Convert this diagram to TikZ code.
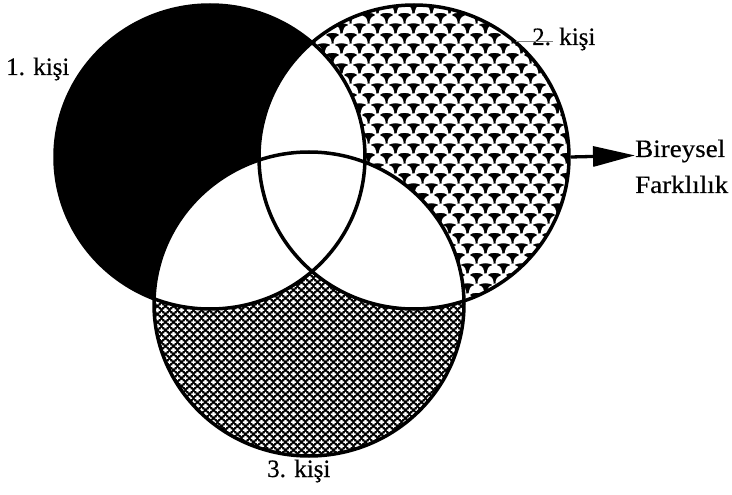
\documentclass[tikz,border=0pt]{standalone}
\usepackage{fontspec}
\setmainfont{Liberation Serif}[FakeBold=0.4]
\usetikzlibrary{arrows.meta,patterns,shapes.geometric}

% white "dome" shape of the scale pattern, bottom centre at (#1,#2)
\newcommand\mydome[2]{%
  \pgfpathmoveto{\pgfpointadd{\pgfpoint{#1}{#2}}{\pgfpoint{-8.2pt}{-2.5pt}}}%
  \pgfpathcurveto{\pgfpointadd{\pgfpoint{#1}{#2}}{\pgfpoint{-8.2pt}{3.5pt}}}%
                 {\pgfpointadd{\pgfpoint{#1}{#2}}{\pgfpoint{-6.5pt}{6.8pt}}}%
                 {\pgfpointadd{\pgfpoint{#1}{#2}}{\pgfpoint{-3pt}{7.5pt}}}%
  \pgfpathcurveto{\pgfpointadd{\pgfpoint{#1}{#2}}{\pgfpoint{-1pt}{7.9pt}}}%
                 {\pgfpointadd{\pgfpoint{#1}{#2}}{\pgfpoint{-0.3pt}{8.6pt}}}%
                 {\pgfpointadd{\pgfpoint{#1}{#2}}{\pgfpoint{0pt}{9.8pt}}}%
  \pgfpathcurveto{\pgfpointadd{\pgfpoint{#1}{#2}}{\pgfpoint{0.3pt}{8.6pt}}}%
                 {\pgfpointadd{\pgfpoint{#1}{#2}}{\pgfpoint{1pt}{7.9pt}}}%
                 {\pgfpointadd{\pgfpoint{#1}{#2}}{\pgfpoint{3pt}{7.5pt}}}%
  \pgfpathcurveto{\pgfpointadd{\pgfpoint{#1}{#2}}{\pgfpoint{6.5pt}{6.8pt}}}%
                 {\pgfpointadd{\pgfpoint{#1}{#2}}{\pgfpoint{8.2pt}{3.5pt}}}%
                 {\pgfpointadd{\pgfpoint{#1}{#2}}{\pgfpoint{8.2pt}{-2.5pt}}}%
  \pgfpathcurveto{\pgfpointadd{\pgfpoint{#1}{#2}}{\pgfpoint{3pt}{0.6pt}}}%
                 {\pgfpointadd{\pgfpoint{#1}{#2}}{\pgfpoint{-3pt}{0.6pt}}}%
                 {\pgfpointadd{\pgfpoint{#1}{#2}}{\pgfpoint{-8.2pt}{-2.5pt}}}%
  \pgfpathclose}

\pgfdeclarepatternformonly{domescales}{\pgfqpoint{0pt}{0pt}}{\pgfqpoint{18pt}{20pt}}{\pgfqpoint{18pt}{20pt}}{%
  \mydome{9pt}{2.5pt}%
  \mydome{9pt}{22.5pt}%
  \mydome{0pt}{12.5pt}%
  \mydome{18pt}{12.5pt}%
  \mydome{0pt}{-7.5pt}%
  \mydome{18pt}{-7.5pt}%
  \pgfusepath{fill}}

% white plus signs on a diagonal lattice
\newcommand\myplus[2]{%
  \pgfpathrectangle{\pgfpointadd{\pgfpoint{#1}{#2}}{\pgfpoint{-2.3pt}{-0.75pt}}}{\pgfpoint{4.6pt}{1.5pt}}%
  \pgfpathrectangle{\pgfpointadd{\pgfpoint{#1}{#2}}{\pgfpoint{-0.75pt}{-2.3pt}}}{\pgfpoint{1.5pt}{4.6pt}}}

\pgfdeclarepatternformonly{plusdots}{\pgfqpoint{0pt}{0pt}}{\pgfqpoint{7.5pt}{8.4pt}}{\pgfqpoint{7.5pt}{8.4pt}}{%
  \myplus{0pt}{0pt}\myplus{7.5pt}{0pt}\myplus{0pt}{8.4pt}\myplus{7.5pt}{8.4pt}%
  \myplus{3.75pt}{4.2pt}%
  \pgfusepath{fill}}

\begin{document}
\begin{tikzpicture}[x=1pt,y=-1pt,
  ring/.style={ellipse, draw=black, line width=3.5pt, minimum width=310pt, minimum height=304pt, inner sep=0pt},
  lbl/.style={font=\fontsize{25}{30}\selectfont, inner sep=0pt, anchor=base west},
  blob/.style={x radius=155pt, y radius=152pt}]
\useasboundingbox (0,0) rectangle (732,495);
\fill[white] (0,0) rectangle (732,495);

\coordinate (c1) at (210,157);
\coordinate (c2) at (414,157);
\coordinate (c3) at (309,304);

% base black fill
\fill[black] (c1) ellipse[blob];
\fill[black] (c2) ellipse[blob];
\fill[black] (c3) ellipse[blob];
% patterns
\path[pattern=domescales, pattern color=white] (c2) ellipse[blob];
\path[pattern=plusdots, pattern color=white] (c3) ellipse[blob];
% white overlaps
\begin{scope}
  \clip (c1) ellipse[blob];
  \fill[white] (c2) ellipse[blob];
  \fill[white] (c3) ellipse[blob];
\end{scope}
\begin{scope}
  \clip (c2) ellipse[blob];
  \fill[white] (c3) ellipse[blob];
\end{scope}

% outlines
\node[ring] (n1) at (c1) {};
\node[ring] (n2) at (c2) {};
\node[ring] (n3) at (c3) {};

% labels
\node[lbl] (k1) at (6,75) {1. kişi};
\node[lbl] (k2) at (532,45) {2. kişi};
\node[lbl] (k3) at (267,477) {3. kişi};
\node[lbl] (bir) at (635,157) {\scalebox{1.08}[1]{Bireysel}};
\node[lbl] (fark) at (635,193) {\scalebox{1.08}[1]{Farklılık}};

% thin leader at label 2
\coordinate (l2a) at (516,41);
\coordinate (l2b) at (553,41);
\draw[gray, line width=0.5pt] (l2a) -- (l2b);

% arrow
\draw[line width=3.3pt, -{Triangle[length=42pt,width=20pt]}] (n2.east) -- ([yshift=-4.4pt]bir.west);
\end{tikzpicture}
\end{document}
